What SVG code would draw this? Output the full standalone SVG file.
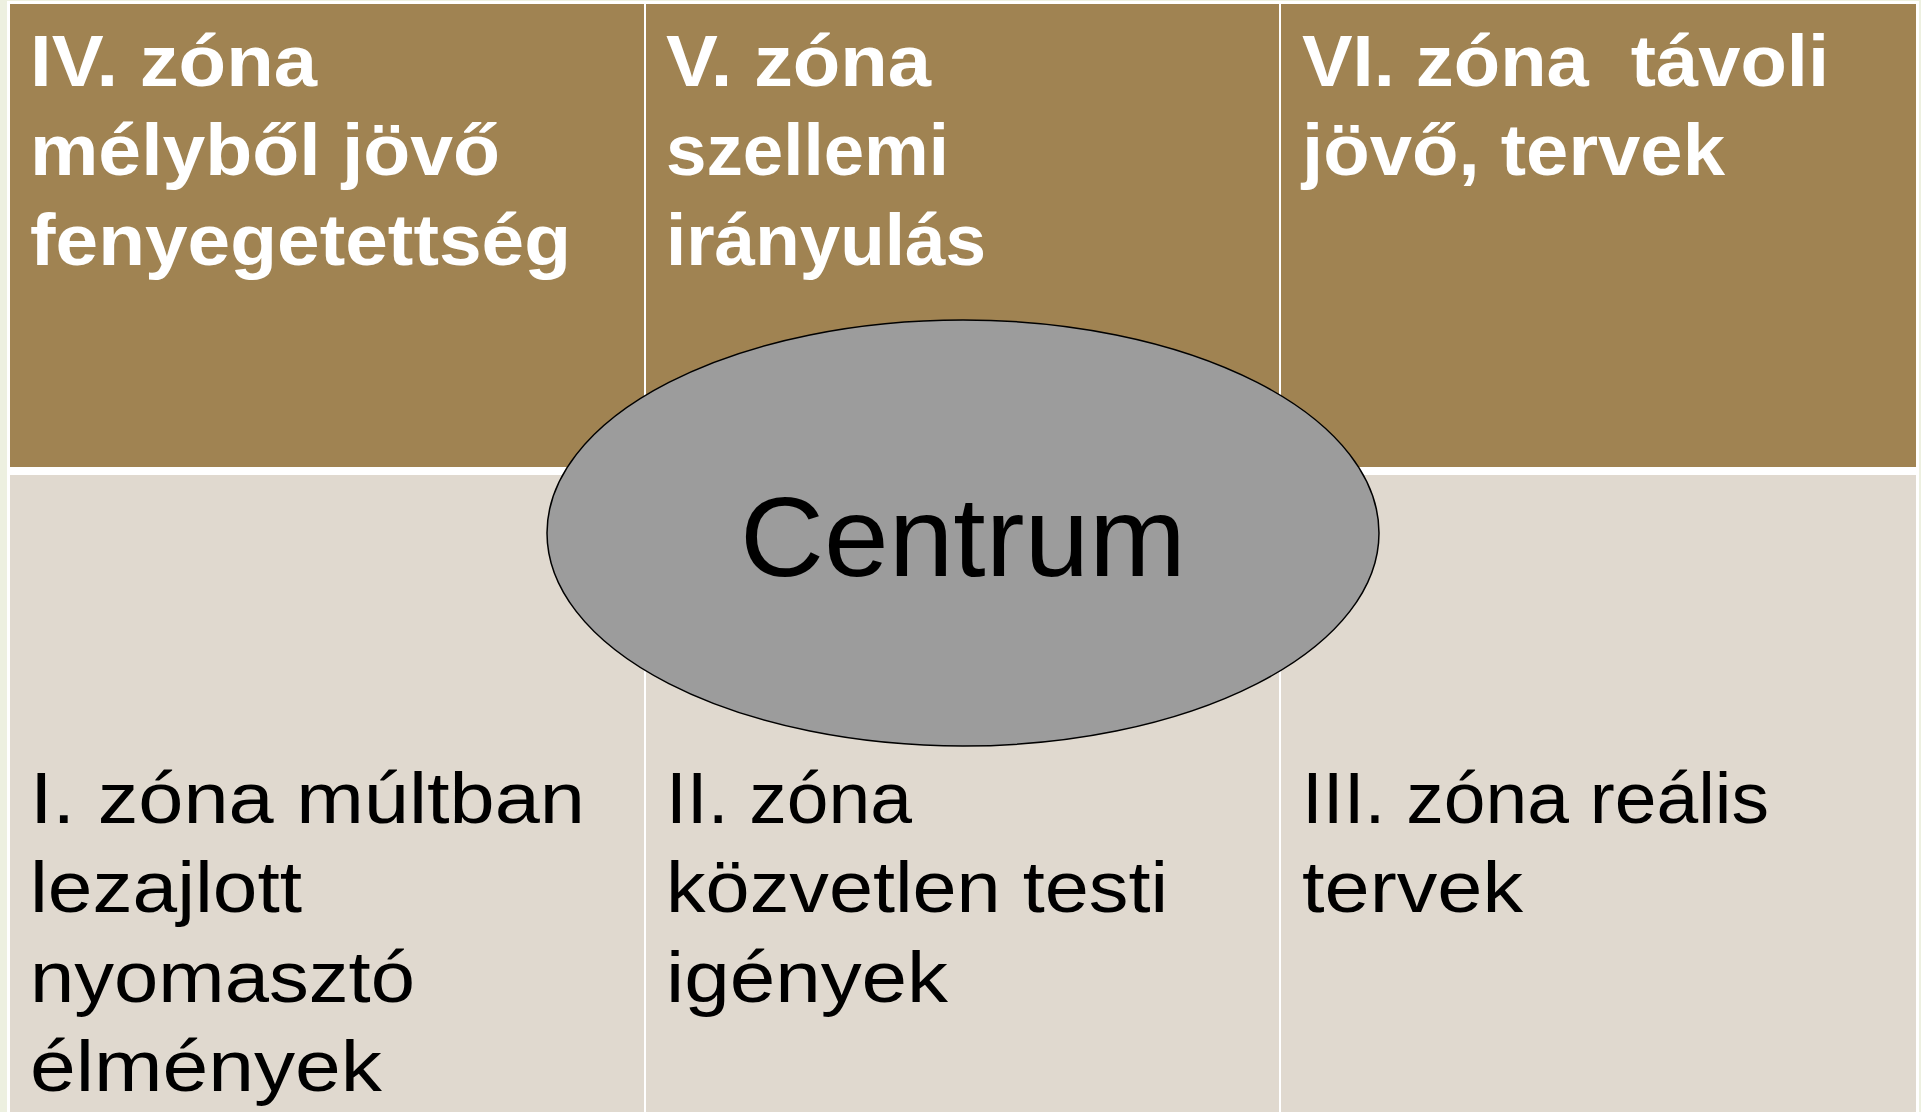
<svg xmlns="http://www.w3.org/2000/svg" width="1921" height="1112" viewBox="0 0 1921 1112">
<style>
.top{fill:#A08352}
.bot{fill:#E0D9CF}
.tw{font-family:"Liberation Sans",Arial,sans-serif;font-weight:bold;font-size:72px;fill:#FFFFFF}
.tb{font-family:"Liberation Sans",Arial,sans-serif;font-size:72px;fill:#000000}
.ct{font-family:"Liberation Sans",Arial,sans-serif;font-size:114px;fill:#000000}
</style>
<rect x="0" y="0" width="1921" height="1112" fill="#EDF0E0"/>
<rect x="7" y="1" width="1912" height="1111" fill="#FFFFFF"/>
<g id="zone4">
<rect class="top" x="10" y="4" width="634" height="463"/>
<text class="tw"><tspan x="30" y="86" textLength="287" lengthAdjust="spacingAndGlyphs">IV. zóna</tspan><tspan x="30" y="175" textLength="470" lengthAdjust="spacingAndGlyphs">mélyből jövő</tspan><tspan x="30" y="265" textLength="541" lengthAdjust="spacingAndGlyphs">fenyegetettség</tspan></text>
</g>
<g id="zone5">
<rect class="top" x="646" y="4" width="633" height="463"/>
<text class="tw"><tspan x="666" y="86" textLength="265" lengthAdjust="spacingAndGlyphs">V. zóna</tspan><tspan x="666" y="175" textLength="283" lengthAdjust="spacingAndGlyphs">szellemi</tspan><tspan x="666" y="265" textLength="320" lengthAdjust="spacingAndGlyphs">irányulás</tspan></text>
</g>
<g id="zone6">
<rect class="top" x="1281" y="4" width="635" height="463"/>
<text class="tw" xml:space="preserve"><tspan x="1302" y="86" textLength="527" lengthAdjust="spacingAndGlyphs">VI. zóna  távoli</tspan><tspan x="1302" y="175" textLength="423" lengthAdjust="spacingAndGlyphs">jövő, tervek</tspan></text>
</g>
<g id="zone1">
<rect class="bot" x="10" y="475" width="634" height="637"/>
<text class="tb"><tspan x="30" y="823" textLength="555" lengthAdjust="spacingAndGlyphs">I. zóna múltban</tspan><tspan x="30" y="912" textLength="272" lengthAdjust="spacingAndGlyphs">lezajlott</tspan><tspan x="30" y="1002" textLength="385" lengthAdjust="spacingAndGlyphs">nyomasztó</tspan><tspan x="30" y="1091" textLength="352" lengthAdjust="spacingAndGlyphs">élmények</tspan></text>
</g>
<g id="zone2">
<rect class="bot" x="646" y="475" width="633" height="637"/>
<text class="tb"><tspan x="666" y="823" textLength="246" lengthAdjust="spacingAndGlyphs">II. zóna</tspan><tspan x="666" y="912" textLength="502" lengthAdjust="spacingAndGlyphs">közvetlen testi</tspan><tspan x="666" y="1002" textLength="282" lengthAdjust="spacingAndGlyphs">igények</tspan></text>
</g>
<g id="zone3">
<rect class="bot" x="1281" y="475" width="635" height="637"/>
<text class="tb"><tspan x="1302" y="823" textLength="467" lengthAdjust="spacingAndGlyphs">III. zóna reális</tspan><tspan x="1302" y="912" textLength="221" lengthAdjust="spacingAndGlyphs">tervek</tspan></text>
</g>
<g id="connectors"></g>
<g id="centrum">
<ellipse cx="963" cy="533" rx="416" ry="213" fill="#9C9C9C" stroke="#000000" stroke-width="1.5"/>
<text class="ct" x="963" y="576" text-anchor="middle" textLength="446" lengthAdjust="spacingAndGlyphs">Centrum</text>
</g>
</svg>
